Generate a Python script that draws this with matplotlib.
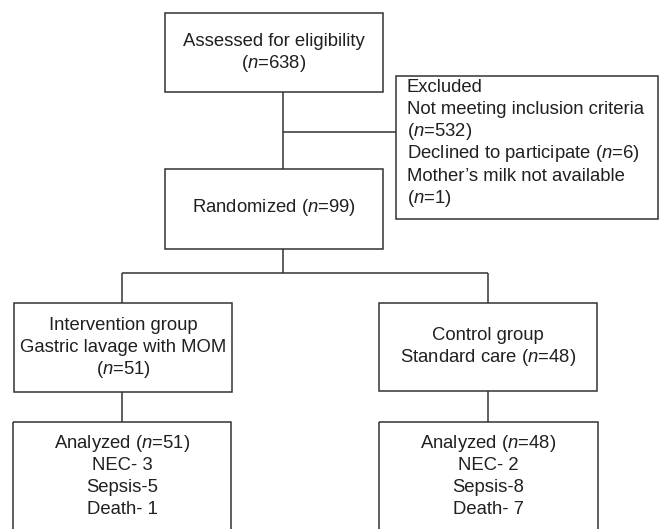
import matplotlib
matplotlib.use('Agg')
import matplotlib.pyplot as plt
from matplotlib.patches import Rectangle

plt.rcParams['font.family'] = ['Liberation Sans', 'DejaVu Sans']
plt.rcParams['mathtext.fontset'] = 'custom'
plt.rcParams['mathtext.rm'] = 'Liberation Sans'
plt.rcParams['mathtext.it'] = 'Liberation Sans:italic'

# box texts (one entry per line)
assessed_lines = ['Assessed for eligibility', r'($\it{n}$=638)']
excluded_lines = ['Excluded', 'Not meeting inclusion criteria', r'($\it{n}$=532)',
                  r'Declined to participate ($\it{n}$=6)', 'Mother\u2019s milk not available',
                  r'($\it{n}$=1)']
randomized_lines = [r'Randomized ($\it{n}$=99)']
intervention_lines = ['Intervention group', 'Gastric lavage with MOM', r'($\it{n}$=51)']
control_lines = ['Control group', r'Standard care ($\it{n}$=48)']
analyzed_int_lines = [r'Analyzed ($\it{n}$=51)', 'NEC- 3', 'Sepsis-5', 'Death- 1']
analyzed_ctl_lines = [r'Analyzed ($\it{n}$=48)', 'NEC- 2', 'Sepsis-8', 'Death- 7']

# layout in pixel units (x0, y0, x1, y1)
boxes = {
    'assessed': (165, 13, 383, 92),
    'excluded': (396, 76, 658, 219),
    'randomized': (165, 169, 383, 249),
    'intervention': (14, 303, 232, 392),
    'control': (379, 303, 597, 391),
    'an_int': (13, 422, 231, 540),
    'an_ctl': (379, 422, 598, 540),
}
LINE_GAP = 22.3
EDGE = '#333333'
TXT = '#231f20'
FS = 13.3

fig = plt.figure(figsize=(6.59, 5.29), dpi=100)
ax = fig.add_axes([0, 0, 1, 1])
ax.set_xlim(0, 659)
ax.set_ylim(529, 0)
ax.axis('off')

for key, (x0, y0, x1, y1) in boxes.items():
    ax.add_patch(Rectangle((x0, y0), x1 - x0, y1 - y0, fill=False,
                           edgecolor=EDGE, lw=1.1))


def put_lines(lines, x, y_first, ha='center'):
    for i, s in enumerate(lines):
        ax.text(x, y_first + i * LINE_GAP, s, ha=ha, va='center',
                fontsize=FS, color=TXT)


put_lines(assessed_lines, 274, 41)
put_lines(excluded_lines, 407, 87, ha='left')
put_lines(randomized_lines, 274, 208)
put_lines(intervention_lines, 123, 325)
put_lines(control_lines, 488, 335)
put_lines(analyzed_int_lines, 122, 443)
put_lines(analyzed_ctl_lines, 488, 443)

# connectors
conn = [
    ((283, 283), (92, 169)),
    ((283, 396), (132, 132)),
    ((283, 283), (249, 273)),
    ((122, 488), (273, 273)),
    ((122, 122), (273, 303)),
    ((488, 488), (273, 303)),
    ((122, 122), (392, 422)),
    ((488, 488), (391, 422)),
]
for xs, ys in conn:
    ax.plot(xs, ys, color=EDGE, lw=1.1, solid_capstyle='butt')

fig.savefig('out.png', dpi=100)
